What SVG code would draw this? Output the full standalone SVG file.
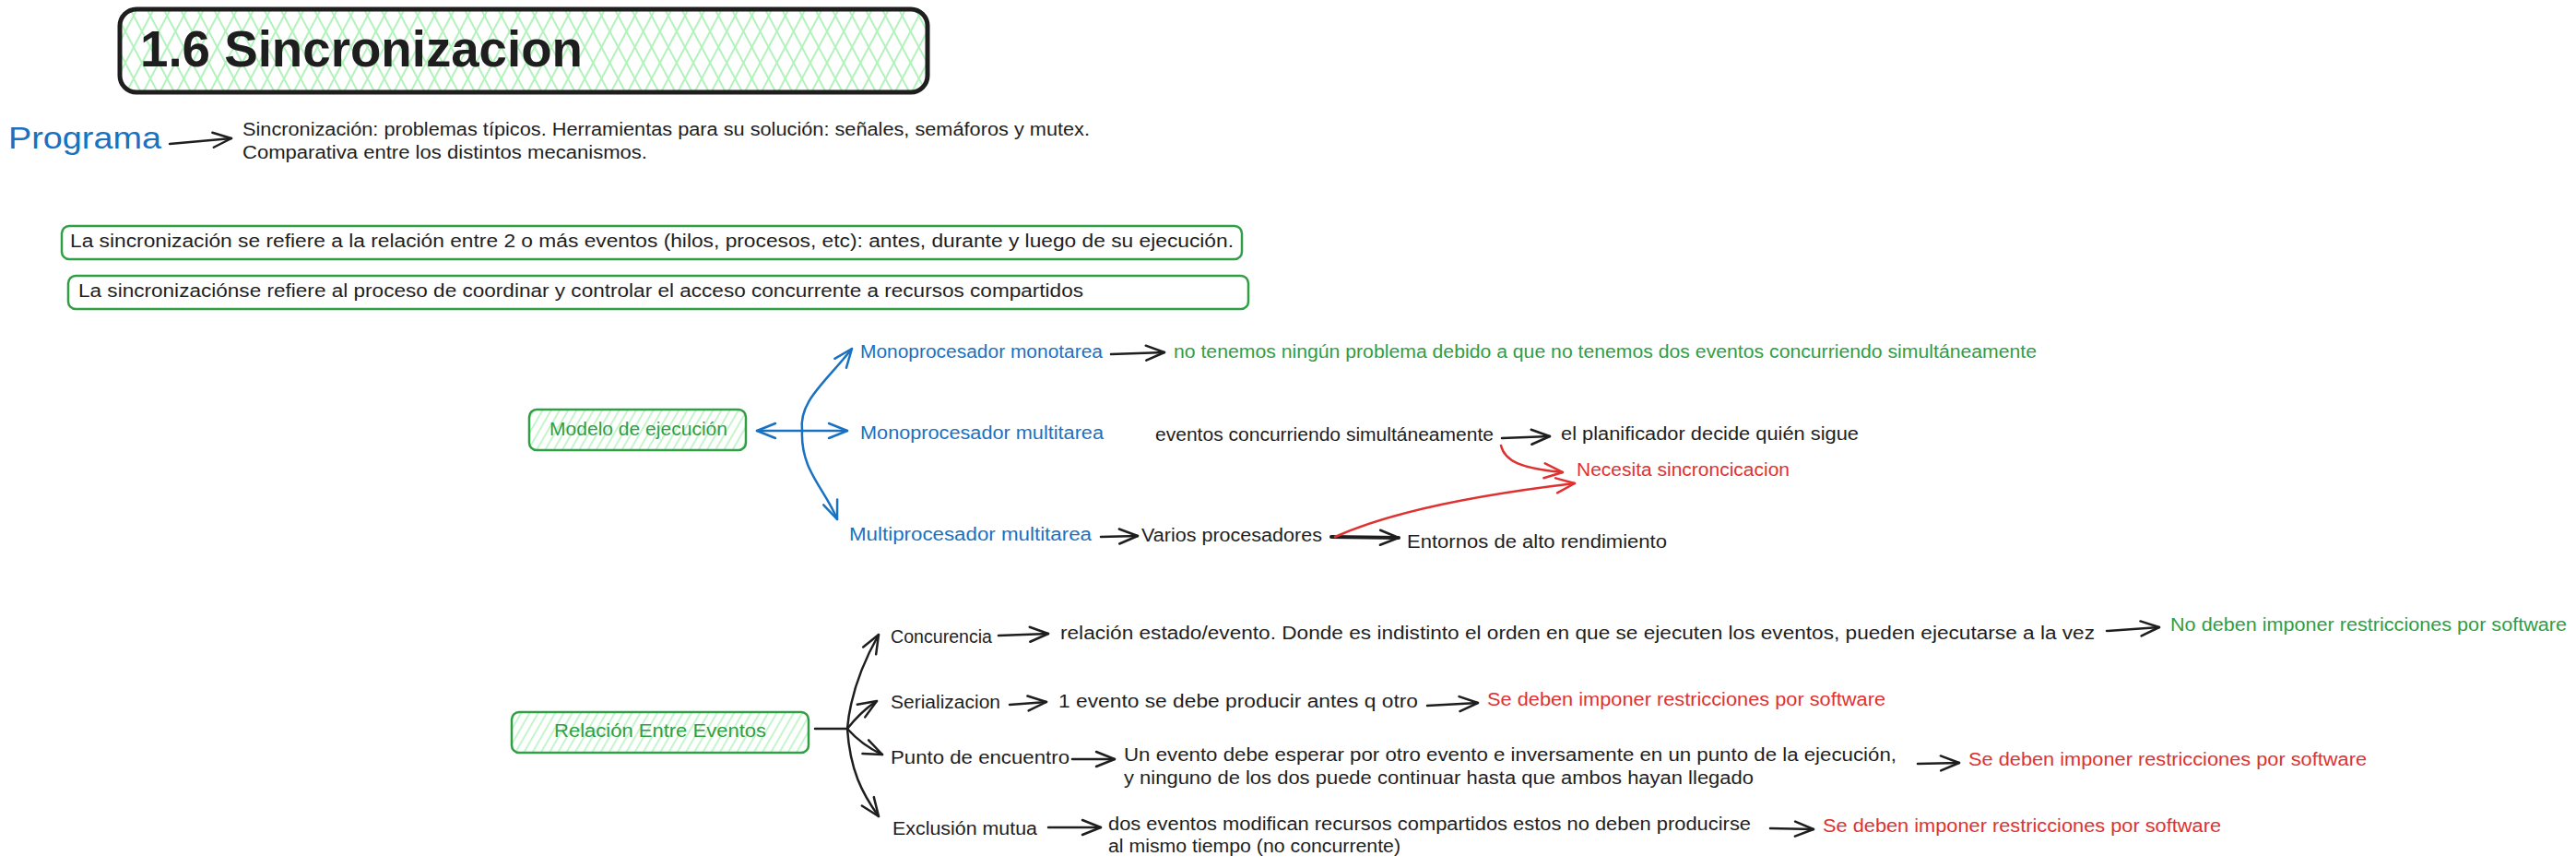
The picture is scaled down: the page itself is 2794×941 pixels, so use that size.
<svg xmlns="http://www.w3.org/2000/svg" width="2794" height="941" viewBox="0 0 2794 941">
<style>
text{font-family:"Liberation Sans",Arial,sans-serif;font-size:20px;fill:#1e1e1e}
text.title{font-size:56px;font-weight:bold}
text.prog{font-size:34px}
.blue{fill:#1971c2}
.green{fill:#2f9e44}
.red{fill:#e03131}
.ln{fill:none;stroke:#1e1e1e;stroke-width:2.5;stroke-linecap:round;stroke-linejoin:round}
.lb{stroke:#1971c2}
.lr{stroke:#e03131}
.box{fill:#fff;stroke:#2f9e44;stroke-width:2.5}
</style>
<defs>
<pattern id="h1" width="16" height="16" patternUnits="userSpaceOnUse" patternTransform="rotate(28)"><line x1="8" y1="0" x2="8" y2="16" stroke="#b2f2bb" stroke-width="2"/></pattern>
<pattern id="h2" width="16" height="16" patternUnits="userSpaceOnUse" patternTransform="rotate(-28)"><line x1="8" y1="0" x2="8" y2="16" stroke="#b2f2bb" stroke-width="2"/></pattern>
<pattern id="hs" width="8" height="8" patternUnits="userSpaceOnUse" patternTransform="rotate(30)"><line x1="4" y1="0" x2="4" y2="8" stroke="#b2f2bb" stroke-width="1.5"/></pattern>
<marker id="ak" viewBox="0 0 24 20" refX="22" refY="10" markerWidth="24" markerHeight="20" markerUnits="userSpaceOnUse" orient="auto-start-reverse"><path d="M2,2 L22,10 L2,18" fill="none" stroke="#1e1e1e" stroke-width="2.5" stroke-linecap="round" stroke-linejoin="round"/></marker>
<marker id="ab" viewBox="0 0 24 20" refX="22" refY="10" markerWidth="24" markerHeight="20" markerUnits="userSpaceOnUse" orient="auto-start-reverse"><path d="M2,2 L22,10 L2,18" fill="none" stroke="#1971c2" stroke-width="2.5" stroke-linecap="round" stroke-linejoin="round"/></marker>
<marker id="ar" viewBox="0 0 24 20" refX="22" refY="10" markerWidth="24" markerHeight="20" markerUnits="userSpaceOnUse" orient="auto-start-reverse"><path d="M2,2 L22,10 L2,18" fill="none" stroke="#e03131" stroke-width="2.5" stroke-linecap="round" stroke-linejoin="round"/></marker>
</defs>
<rect width="2794" height="941" fill="#fff"/>

<g id="title">
<rect x="130" y="10" width="876" height="90" rx="18" fill="url(#h1)"/>
<rect x="130" y="10" width="876" height="90" rx="18" fill="url(#h2)" stroke="#1e1e1e" stroke-width="5"/>
<text x="152" y="72" class="title" textLength="480" lengthAdjust="spacingAndGlyphs">1.6 Sincronizacion</text>
</g>

<g id="programa">
<text x="9" y="161" class="prog blue" textLength="166" lengthAdjust="spacingAndGlyphs">Programa</text>
</g>
<g id="programa-texto">
<text x="263" y="147" textLength="919" lengthAdjust="spacingAndGlyphs">Sincronización: problemas típicos. Herramientas para su solución: señales, semáforos y mutex.</text>
<text x="263" y="172" textLength="439" lengthAdjust="spacingAndGlyphs">Comparativa entre los distintos mecanismos.</text>
</g>

<g id="def1">
<rect x="67" y="245" width="1280" height="36" rx="8" class="box"/>
<text x="76" y="268" textLength="1262" lengthAdjust="spacingAndGlyphs">La sincronización se refiere a la relación entre 2 o más eventos (hilos, procesos, etc): antes, durante y luego de su ejecución.</text>
</g>
<g id="def2">
<rect x="74" y="299" width="1280" height="36" rx="8" class="box"/>
<text x="85" y="322" textLength="1090" lengthAdjust="spacingAndGlyphs">La sincronizaciónse refiere al proceso de coordinar y controlar el acceso concurrente a recursos compartidos</text>
</g>

<g id="modelo">
<rect x="574" y="444" width="235" height="44" rx="8" fill="url(#hs)" stroke="#2f9e44" stroke-width="2.5"/>
<text x="596" y="472" class="green" textLength="193" lengthAdjust="spacingAndGlyphs">Modelo de ejecución</text>
</g>
<g id="mono-monotarea"><text x="933" y="388" class="blue" textLength="263" lengthAdjust="spacingAndGlyphs">Monoprocesador monotarea</text></g>
<g id="sin-problema"><text x="1273" y="388" class="green" textLength="936" lengthAdjust="spacingAndGlyphs">no tenemos ningún problema debido a que no tenemos dos eventos concurriendo simultáneamente</text></g>
<g id="mono-multitarea"><text x="933" y="476" class="blue" textLength="264" lengthAdjust="spacingAndGlyphs">Monoprocesador multitarea</text></g>
<g id="eventos-concurriendo"><text x="1253" y="478" textLength="367" lengthAdjust="spacingAndGlyphs">eventos concurriendo simultáneamente</text></g>
<g id="planificador"><text x="1693" y="477" textLength="323" lengthAdjust="spacingAndGlyphs">el planificador decide quién sigue</text></g>
<g id="necesita"><text x="1710" y="516" class="red" textLength="231" lengthAdjust="spacingAndGlyphs">Necesita sincroncicacion</text></g>
<g id="multi-multitarea"><text x="921" y="586" class="blue" textLength="263" lengthAdjust="spacingAndGlyphs">Multiprocesador multitarea</text></g>
<g id="varios"><text x="1238" y="587" textLength="196" lengthAdjust="spacingAndGlyphs">Varios procesadores</text></g>
<g id="entornos"><text x="1526" y="594" textLength="282" lengthAdjust="spacingAndGlyphs">Entornos de alto rendimiento</text></g>

<g id="relacion">
<rect x="555" y="772" width="322" height="44" rx="8" fill="url(#hs)" stroke="#2f9e44" stroke-width="2.5"/>
<text x="601" y="799" class="green" textLength="230" lengthAdjust="spacingAndGlyphs">Relación Entre Eventos</text>
</g>
<g id="concurencia"><text x="966" y="697" textLength="110" lengthAdjust="spacingAndGlyphs">Concurencia</text></g>
<g id="concurencia-def"><text x="1150" y="693" textLength="1122" lengthAdjust="spacingAndGlyphs">relación estado/evento. Donde es indistinto el orden en que se ejecuten los eventos, pueden ejecutarse a la vez</text></g>
<g id="concurencia-res"><text x="2354" y="684" class="green" textLength="430" lengthAdjust="spacingAndGlyphs">No deben imponer restricciones por software</text></g>
<g id="serializacion"><text x="966" y="768" textLength="119" lengthAdjust="spacingAndGlyphs">Serializacion</text></g>
<g id="serializacion-def"><text x="1148" y="767" textLength="390" lengthAdjust="spacingAndGlyphs">1 evento se debe producir antes q otro</text></g>
<g id="serializacion-res"><text x="1613" y="765" class="red" textLength="432" lengthAdjust="spacingAndGlyphs">Se deben imponer restricciones por software</text></g>
<g id="punto"><text x="966" y="828" textLength="194" lengthAdjust="spacingAndGlyphs">Punto de encuentro</text></g>
<g id="punto-def">
<text x="1219" y="825" textLength="838" lengthAdjust="spacingAndGlyphs">Un evento debe esperar por otro evento e inversamente en un punto de la ejecución,</text>
<text x="1219" y="850" textLength="683" lengthAdjust="spacingAndGlyphs">y ninguno de los dos puede continuar hasta que ambos hayan llegado</text>
</g>
<g id="punto-res"><text x="2135" y="830" class="red" textLength="432" lengthAdjust="spacingAndGlyphs">Se deben imponer restricciones por software</text></g>
<g id="exclusion"><text x="968" y="905" textLength="157" lengthAdjust="spacingAndGlyphs">Exclusión mutua</text></g>
<g id="exclusion-def">
<text x="1202" y="900" textLength="697" lengthAdjust="spacingAndGlyphs">dos eventos modifican recursos compartidos estos no deben producirse</text>
<text x="1202" y="924" textLength="317" lengthAdjust="spacingAndGlyphs">al mismo tiempo (no concurrente)</text>
</g>
<g id="exclusion-res"><text x="1977" y="902" class="red" textLength="432" lengthAdjust="spacingAndGlyphs">Se deben imponer restricciones por software</text></g>

<g id="connectors">
<path class="ln" d="M184 156 L251 150" marker-end="url(#ak)"/>
<path class="ln lb" d="M821 467 L919 467" marker-start="url(#ab)" marker-end="url(#ab)"/>
<path class="ln lb" d="M870 467 C866 435 895 415 924 378" marker-end="url(#ab)"/>
<path class="ln lb" d="M870 467 C868 510 895 530 908 563" marker-end="url(#ab)"/>
<path class="ln" d="M1205 384 L1263 382" marker-end="url(#ak)"/>
<path class="ln" d="M1629 475 L1681 473" marker-end="url(#ak)"/>
<path class="ln lr" d="M1628 483 C1632 500 1650 508 1695 512" marker-end="url(#ar)"/>
<path class="ln" d="M1194 582 L1234 581" marker-end="url(#ak)"/>
<path class="ln" style="stroke-width:4" d="M1444 582 L1517 583" marker-end="url(#ak)"/>
<path class="ln lr" d="M1448 582 Q1530 545 1708 524" marker-end="url(#ar)"/>
<path class="ln" d="M884 790 L919 790"/>
<path class="ln" d="M919 790 C922 755 935 720 953 688" marker-end="url(#ak)"/>
<path class="ln" d="M919 790 Q935 770 951 760" marker-end="url(#ak)"/>
<path class="ln" d="M919 790 Q935 808 957 818" marker-end="url(#ak)"/>
<path class="ln" d="M919 790 C922 835 935 860 953 885" marker-end="url(#ak)"/>
<path class="ln" d="M1083 689 L1137 687" marker-end="url(#ak)"/>
<path class="ln" d="M2285 684 L2342 680" marker-end="url(#ak)"/>
<path class="ln" d="M1095 764 L1135 761" marker-end="url(#ak)"/>
<path class="ln" d="M1548 765 L1603 762" marker-end="url(#ak)"/>
<path class="ln" d="M1163 823 L1209 823" marker-end="url(#ak)"/>
<path class="ln" d="M2080 828 L2125 827" marker-end="url(#ak)"/>
<path class="ln" d="M1137 897 L1194 897" marker-end="url(#ak)"/>
<path class="ln" d="M1920 898 L1967 899" marker-end="url(#ak)"/>
</g>
</svg>
